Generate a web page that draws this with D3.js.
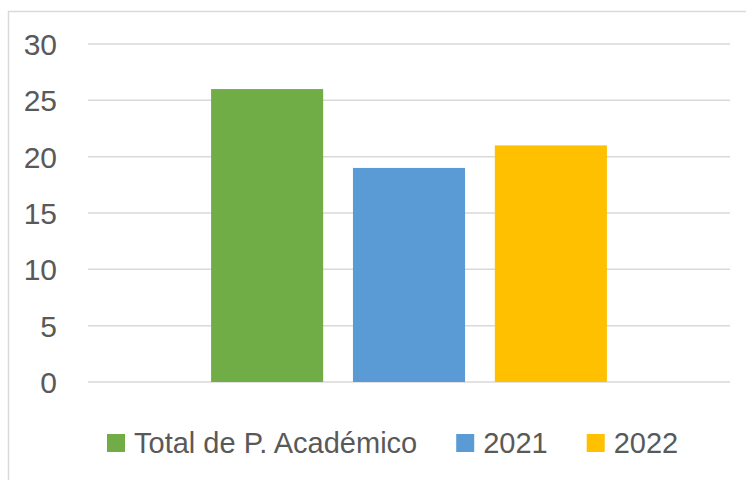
<!DOCTYPE html>
<html>
<head>
<meta charset="utf-8">
<script src="https://cdn.jsdelivr.net/npm/d3@7"></script>
<style>
  body { margin: 0; background: #fff; }
  text { font-family: "Liberation Sans Narrow", "Liberation Sans", sans-serif; fill: #595959; }
</style>
</head>
<body>
<svg id="misvg"></svg>
<script>
const categorias = [""];
const series = ["Total de P. Académico", "2021", "2022"];
const valores = [26, 19, 21];
const colores = ["#70AD47", "#5B9BD5", "#FFC000"];
const ticks = [0, 5, 10, 15, 20, 25, 30];

const W = 746, H = 480;
const margin = { top: 44, right: 16, bottom: 98, left: 88 };
const width = W - margin.left - margin.right;
const height = H - margin.top - margin.bottom;

const root = d3.select("#misvg")
  .attr("width", W)
  .attr("height", H);

// borde del gráfico
root.append("rect")
  .attr("x", 8.5).attr("y", 11.5)
  .attr("width", W).attr("height", H)
  .attr("fill", "none")
  .attr("stroke", "#D9D9D9")
  .attr("stroke-width", 1.5);

const svg = root.append("g")
  .attr("transform", "translate(" + margin.left + "," + margin.top + ")");

const x0 = d3.scaleBand()
  .domain(categorias)
  .range([0, width])
  .paddingInner(0)
  .paddingOuter(0.311);

const x1 = d3.scaleBand()
  .domain(series)
  .range([0, x0.bandwidth()])
  .paddingInner(0.21)
  .paddingOuter(0);

const y = d3.scaleLinear()
  .domain([0, 30])
  .range([height, 0]);

// rejilla
svg.append("g")
  .selectAll("line")
  .data(ticks)
  .enter().append("line")
  .attr("x1", 0).attr("x2", width)
  .attr("y1", d => y(d)).attr("y2", d => y(d))
  .attr("stroke", "#D9D9D9")
  .attr("stroke-width", 1.5);

// eje y
const ejeY = svg.append("g")
  .call(d3.axisLeft(y).tickValues(ticks).tickSize(0).tickPadding(31));
ejeY.select(".domain").remove();
ejeY.selectAll("text")
  .style("font-size", "30px")
  .attr("fill", "#595959")
  .attr("dy", "0.35em");

// barras
svg.selectAll(".bar")
  .data(valores)
  .enter().append("rect")
  .attr("class", "bar")
  .attr("x", (d, i) => x0(categorias[0]) + x1(series[i]))
  .attr("width", x1.bandwidth())
  .attr("y", d => y(d))
  .attr("height", d => height - y(d))
  .attr("fill", (d, i) => colores[i]);

// leyenda
const leyenda = root.append("g").attr("transform", "translate(107,443)");
let lx = 0;
series.forEach((s, i) => {
  const item = leyenda.append("g").attr("transform", "translate(" + lx + ",0)");
  item.append("rect")
    .attr("x", 0).attr("y", -9)
    .attr("width", 18).attr("height", 18)
    .attr("fill", colores[i]);
  const t = item.append("text")
    .attr("x", 27).attr("y", 0)
    .attr("dy", "0.35em")
    .style("font-size", "29px")
    .text(s);
  lx += 27 + t.node().getComputedTextLength() + 39;
});
</script>
</body>
</html>
